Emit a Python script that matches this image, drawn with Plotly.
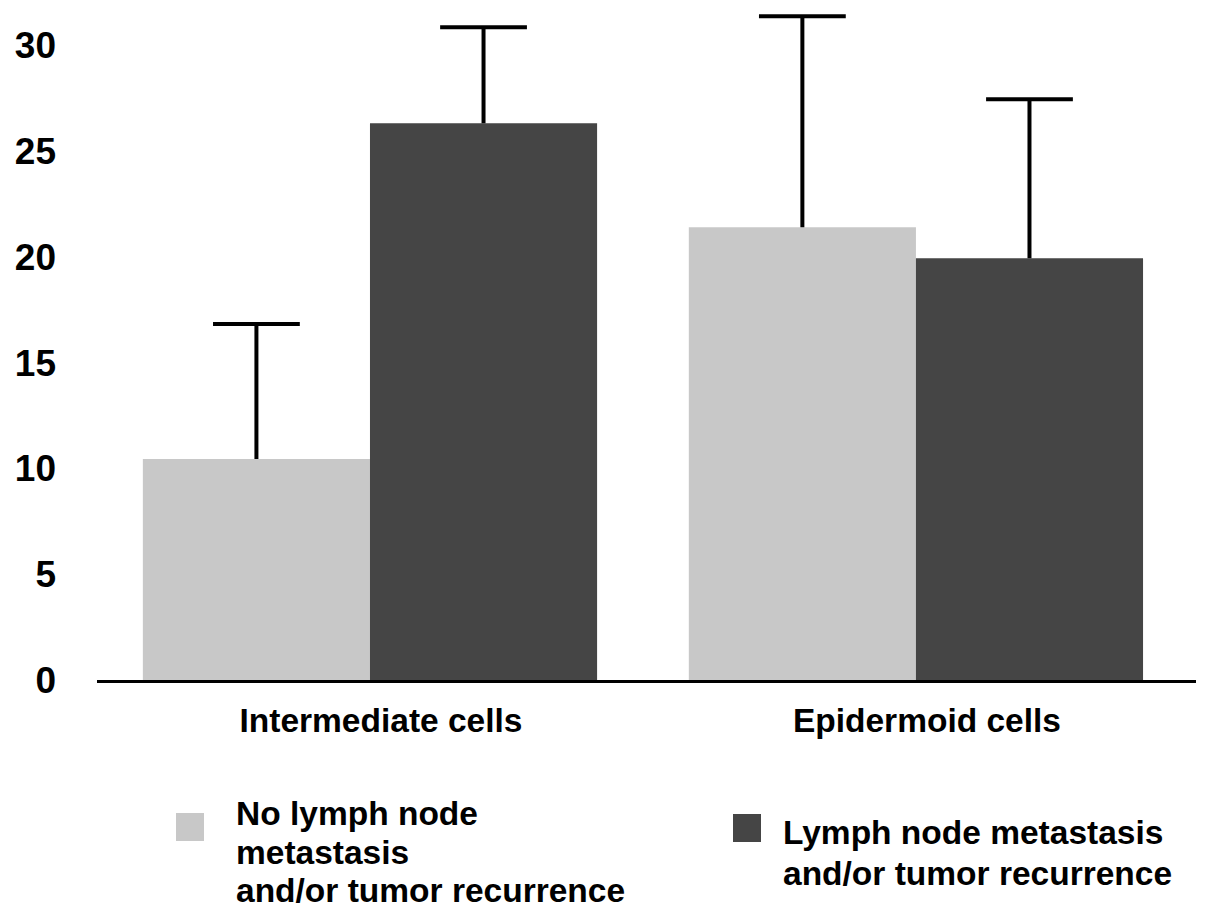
import plotly.graph_objects as go

# ---- data ----
categories = ["Intermediate cells", "Epidermoid cells"]
series_names = ["No lymph node metastasis and/or tumor recurrence",
                "Lymph node metastasis and/or tumor recurrence"]
legend_lines = [["No lymph node", "metastasis", "and/or tumor recurrence"],
                ["Lymph node metastasis", "and/or tumor recurrence"]]
no_meta_values = [10.44, 21.40]
no_meta_errors = [6.38, 9.97]
meta_values = [26.31, 19.93]
meta_errors = [4.54, 7.51]
y_tickvals = [0, 5, 10, 15, 20, 25, 30]

# ---- style ----
colors = ["#c8c8c8", "#454545"]
OFF = 8                      # page body margin offset
W, H = 1205 - OFF, 921 - OFF
L, R, T, B = 97 - OFF, 9, 0, 241
FONT = "Liberation Sans, Arial, sans-serif"
PX_PER_UNIT = 21.16
y_top = (680 - OFF) / PX_PER_UNIT
BAR_W = 0.416                # bar width in category units
CAP_PX = 62                  # error bar cap length

def px_x(px):
    return (px - OFF - L) / (W - L - R)

def px_y(py):
    return (H - B - (py - OFF)) / (H - T - B)

cat_idx = list(range(len(categories)))
series = [(series_names[0], no_meta_values, no_meta_errors, colors[0], -0.5),
          (series_names[1], meta_values, meta_errors, colors[1], 0.5)]

fig = go.Figure()
for name, vals, errs, col, side in series:
    xs = [i + side * BAR_W for i in cat_idx]
    fig.add_trace(go.Bar(
        x=xs, y=vals, width=BAR_W, name=name, showlegend=False,
        marker=dict(color=col, line=dict(width=0)),
        error_y=dict(type="data", symmetric=False, array=errs,
                     arrayminus=[0] * len(errs), color="black",
                     thickness=4, width=0),
    ))
for name, vals, errs, col, side in series:
    xs = [i + side * BAR_W for i in cat_idx]
    fig.add_trace(go.Scatter(
        x=xs, y=[v + e for v, e in zip(vals, errs)], mode="markers",
        showlegend=False, hoverinfo="skip",
        marker=dict(symbol="line-ew", size=CAP_PX, color="black",
                    line=dict(color="black", width=4)),
    ))

# legend drawn as swatch + text lines
swatch_px = [(176, 813), (733, 814)]
text_px_x = [234, 781]
line_centers = [[813, 852, 890], [832, 873]]
shapes = []
annotations = []
for i in range(2):
    sx, sy = swatch_px[i]
    shapes.append(dict(type="rect", xref="paper", yref="paper",
                       x0=px_x(sx), x1=px_x(sx + 28), y0=px_y(sy + 28), y1=px_y(sy),
                       fillcolor=colors[i], line=dict(width=0)))
    for line, cy in zip(legend_lines[i], line_centers[i]):
        annotations.append(dict(text=line, xref="paper", yref="paper",
                                x=px_x(text_px_x[i]), y=px_y(cy),
                                xanchor="left", yanchor="middle", showarrow=False,
                                font=dict(family=FONT, size=33.5, color="black", weight="bold")))

fig.update_layout(
    width=W, height=H,
    margin=dict(l=L, r=R, t=T, b=B),
    paper_bgcolor="white", plot_bgcolor="white",
    barmode="overlay",
    showlegend=False,
    shapes=shapes, annotations=annotations,
    font=dict(family=FONT, color="black"),
)
fig.update_xaxes(
    range=[-0.5, 1.513], tickvals=cat_idx, ticktext=categories,
    showline=True, linecolor="black", linewidth=3,
    ticks="", showgrid=False, zeroline=False,
    tickfont=dict(family=FONT, size=33.5, color="black", weight="bold"),
    ticklabelstandoff=9, ticklabelshift=11,
)
fig.update_yaxes(
    range=[0, y_top], tickvals=y_tickvals,
    showline=False, ticks="", showgrid=False, zeroline=False,
    tickfont=dict(family=FONT, size=37, color="black", weight="bold"),
    ticklabelstandoff=40,
)

fig.write_html("out.html")
